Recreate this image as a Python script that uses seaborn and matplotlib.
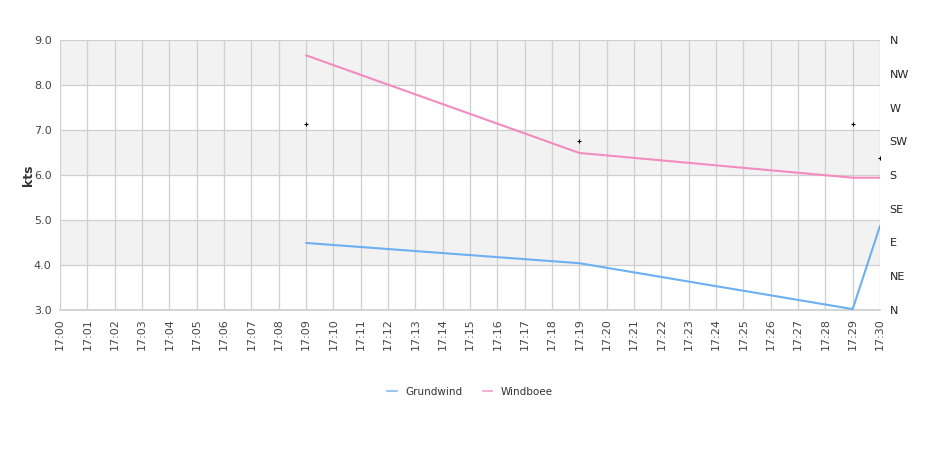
import pandas as pd
import numpy as np
import matplotlib
matplotlib.use("Agg")
import matplotlib.pyplot as plt
import matplotlib.dates as mdates
import seaborn as sns

# ========= DATA =========
times = ["17:09", "17:19", "17:29", "17:30"]
grundwind = [4.49, 4.04, 3.02, 4.87]
windboee = [8.66, 6.49, 5.94, 5.94]
direction_deg = [248, 225, 248, 203]

dir_ticks = [0, 45, 90, 135, 180, 225, 270, 315, 360]
dir_labels = ["N", "NE", "E", "SE", "S", "SW", "W", "NW", "N"]

BLUE = "#6cb0f2"
PINK = "#f28cc0"

day = "2024-01-01 "
ts = pd.to_datetime([day + t for t in times])
df = pd.DataFrame({
    "time": list(ts) * 2,
    "kts": grundwind + windboee,
    "serie": ["Grundwind"] * len(ts) + ["Windboee"] * len(ts),
})

sns.set_theme(style="white")
plt.rcParams["font.family"] = ["DejaVu Sans"]

fig = plt.figure(figsize=(9.4, 4.5), dpi=100)
ax = fig.add_axes([60 / 940, 1 - 310 / 450, 820 / 940, 270 / 450])

# abwechselnde Bänder
for lo in [3, 4, 5, 6, 7, 8]:
    if lo % 2 == 0:
        ax.axhspan(lo, lo + 1, color="#f2f2f2", zorder=0, lw=0)

sns.lineplot(data=df, x="time", y="kts", hue="serie", palette=[BLUE, PINK],
             ax=ax, lw=1.5, legend=False, zorder=3)

x0 = pd.Timestamp(day + "17:00")
x1 = pd.Timestamp(day + "17:30")
ax.set_xlim(x0, x1)
ax.set_ylim(3, 9)
ax.set_yticks(np.arange(3, 9.01, 1.0))
ax.yaxis.set_major_formatter(plt.FuncFormatter(lambda v, p: f"{v:.1f}"))
ax.xaxis.set_major_locator(mdates.MinuteLocator(interval=1))
ax.xaxis.set_major_formatter(mdates.DateFormatter("%H:%M"))
ax.tick_params(axis="x", rotation=90, labelsize=8, colors="#444444", length=0, pad=6)
ax.tick_params(axis="y", labelsize=8, colors="#444444", length=0, pad=6)
ax.grid(True, color="#cfcfcf", lw=0.9, zorder=1)
ax.set_axisbelow(True)
for s in ["top", "right", "left"]:
    ax.spines[s].set_visible(False)
ax.spines["bottom"].set_color("#cfcfcf")
ax.set_xlabel("")
ax.set_ylabel("kts", fontsize=9, fontweight="bold", color="#333333", labelpad=-1)

# Richtungsachse
ax2 = ax.twinx()
ax2.scatter(ts, direction_deg, marker="+", s=12, color="black", lw=0.8, zorder=5)
ax2.set_ylim(0, 360)
ax2.set_yticks(dir_ticks)
ax2.set_yticklabels(dir_labels)
ax2.tick_params(axis="y", labelsize=8, colors="#222222", length=0, pad=7)
ax2.grid(False)
for s in ax2.spines.values():
    s.set_visible(False)
ax2.set_xlim(x0, x1)

handles = [plt.Line2D([], [], color=BLUE, lw=1.5, alpha=0.7),
           plt.Line2D([], [], color=PINK, lw=1.5, alpha=0.7)]
fig.legend(handles, ["Grundwind", "Windboee"], loc="center", bbox_to_anchor=(0.5, 1 - 392 / 450),
           ncol=2, frameon=False, fontsize=7.5, handlelength=0.9, columnspacing=2.0,
           handletextpad=0.8, labelcolor="#333333")

fig.savefig("out.png", dpi=100)
